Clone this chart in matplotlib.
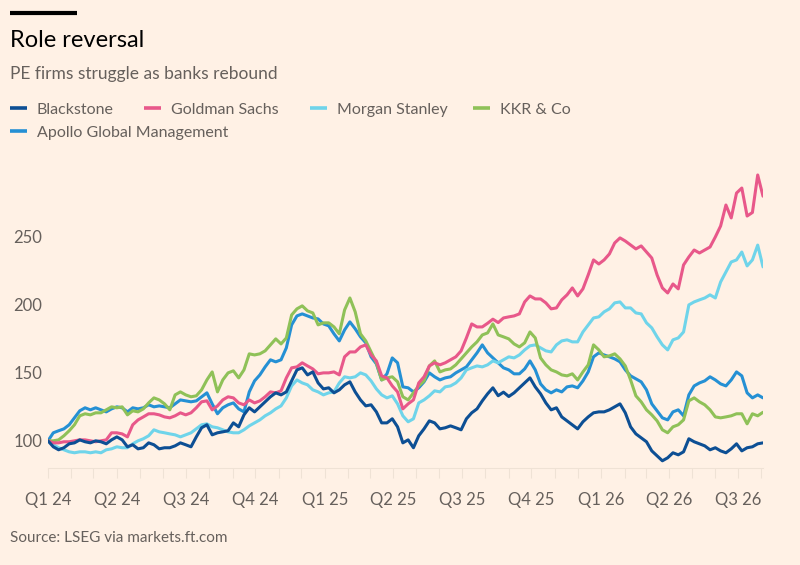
import matplotlib
matplotlib.use('Agg')
import matplotlib.pyplot as plt
import matplotlib.dates as mdates
from matplotlib.lines import Line2D
from matplotlib.ticker import FuncFormatter
import pandas as pd

plt.rcParams['font.family'] = ['Lato', 'DejaVu Sans']

#%% Data (indexed share prices, weekly, rebased to 100)
dates = pd.date_range('2024-01-01', periods=136, freq='7D')

blackstone = [100, 95.6, 93.4, 94.9, 97.8, 98.5, 100.7, 99.3, 98.5, 100,
              99.3, 97.8, 100.7, 102.9, 100.7, 95.6, 97.1, 94.1, 94.9, 98.5,
              97.1, 94.1, 94.9, 94.9, 96.3, 98.5, 97.1, 95.6, 102.9, 109.6,
              111.8, 104.4, 105.9, 106.6, 107.4, 113.2, 110.3, 119.1, 124.3, 121.3,
              125.0, 128.7, 132.4, 135.3, 133.8, 136.0, 144.1, 152.2, 153.7, 148.5,
              150.7, 142.6, 138.2, 139.0, 135.3, 137.5, 141.2, 143.4, 136.0, 130.1,
              125.7, 126.5, 121.3, 113.2, 113.2, 116.2, 110.3, 98.5, 100.7, 94.9,
              103.7, 108.8, 114.7, 113.2, 108.8, 109.6, 111.0, 109.6, 108.1, 116.2,
              120.6, 123.5, 129.4, 134.6, 139.0, 133.2, 135.8, 132.6, 135.3, 139.0,
              142.6, 146.3, 139.7, 134.6, 127.9, 122.8, 124.3, 117.6, 114.7, 111.8,
              108.8, 114.0, 117.6, 120.6, 121.3, 121.3, 122.8, 125.0, 127.2, 120.6,
              110.3, 105.1, 102.2, 99.3, 92.6, 89.0, 85.3, 87.5, 91.2, 89.7,
              91.9, 101.5, 99.3, 97.8, 96.3, 93.4, 94.9, 92.6, 91.2, 94.1,
              97.8, 92.6, 94.9, 95.6, 97.8, 98.5]

goldman = [100, 98.5, 98.5, 99.3, 99.3, 100, 100.7, 100.7, 100, 99.3,
           100, 100.7, 105.9, 105.9, 105.1, 102.9, 111.8, 115.4, 117.6, 119.9,
           119.9, 119.1, 117.6, 116.9, 118.4, 120.6, 119.1, 120.6, 124.3, 128.7,
           129.4, 122.8, 125.7, 130.1, 132.4, 131.6, 127.9, 126.5, 130.1, 127.9,
           129.4, 132.4, 136.0, 135.3, 136.8, 146.3, 153.7, 154.4, 157.4, 155.1,
           152.9, 149.3, 150.0, 150.0, 150.7, 148.5, 161.8, 165.4, 165.4, 169.1,
           170.6, 163.2, 158.8, 147.8, 146.3, 140.4, 136.0, 123.5, 127.2, 130.1,
           142.6, 147.1, 155.1, 157.4, 155.9, 157.4, 159.6, 161.8, 166.2, 175.7,
           186.0, 183.8, 183.8, 186.5, 189.5, 187.0, 190.4, 191.2, 191.9, 193.4,
           202.2, 206.6, 204.4, 204.4, 201.5, 197.1, 197.8, 203.7, 207.4, 212.5,
           206.6, 211.8, 222.1, 233.1, 230.1, 233.1, 237.5, 245.6, 249.3, 247.0,
           244.1, 241.2, 243.4, 239.0, 234.5, 222.1, 212.5, 208.8, 215.4, 211.8,
           229.4, 235.3, 240.4, 238.2, 240.4, 242.6, 250.0, 258.1, 273.5, 264.0,
           282.3, 286.0, 265.4, 268.0, 295.6, 280.0]

morgan = [100, 97.1, 94.9, 93.4, 91.9, 91.2, 91.9, 91.9, 91.2, 91.9,
          91.2, 93.4, 94.1, 95.6, 94.9, 94.9, 97.8, 100, 101.5, 103.7,
          108.1, 106.6, 105.9, 105.1, 104.4, 102.9, 104.4, 105.9, 108.8, 111.8,
          112.5, 110.3, 109.6, 108.1, 106.6, 105.9, 105.9, 108.1, 111.0, 113.2,
          115.4, 118.4, 120.6, 123.5, 125.7, 131.6, 140.4, 144.8, 142.6, 141.2,
          137.5, 136.0, 133.8, 135.3, 136.0, 142.6, 147.1, 146.3, 147.1, 150.0,
          148.5, 144.1, 138.2, 133.8, 131.6, 133.1, 127.2, 118.4, 114.0, 116.2,
          127.9, 130.1, 133.1, 136.8, 136.0, 139.7, 140.4, 142.6, 146.3, 152.2,
          153.7, 155.1, 154.4, 155.9, 158.8, 157.4, 159.6, 161.8, 161.0, 163.2,
          166.9, 169.9, 170.6, 168.4, 166.2, 165.4, 170.6, 173.5, 174.3, 172.8,
          172.8, 180.1, 185.3, 190.4, 191.2, 194.9, 197.1, 201.5, 202.2, 197.8,
          197.8, 194.1, 193.4, 186.8, 183.1, 176.5, 170.6, 166.9, 174.3, 175.7,
          180.1, 200.0, 202.2, 203.7, 205.1, 207.4, 205.1, 216.9, 224.3, 231.6,
          233.1, 238.9, 228.7, 233.1, 244.0, 228.0]

kkr = [100, 100, 100.7, 103.7, 107.4, 111.8, 118.4, 119.9, 119.1, 120.6,
       120.6, 122.8, 125.0, 124.3, 125.0, 119.1, 122.1, 121.3, 123.5, 127.9,
       131.6, 130.1, 127.2, 122.8, 133.8, 136.0, 133.8, 132.4, 133.1, 137.5,
       144.8, 150.7, 136.0, 144.8, 150.0, 151.5, 146.3, 152.2, 164.0, 163.2,
       164.0, 166.2, 170.6, 175.0, 171.3, 175.7, 192.6, 197.1, 199.3, 195.6,
       194.1, 185.3, 186.8, 186.8, 183.8, 178.7, 196.3, 205.1, 194.9, 178.7,
       173.5, 165.4, 157.4, 144.8, 146.3, 147.1, 143.4, 132.4, 130.1, 135.3,
       140.4, 144.1, 155.1, 158.8, 150.7, 152.2, 152.9, 155.9, 160.3, 164.7,
       169.1, 172.8, 177.9, 179.4, 186.0, 177.9, 176.5, 175.0, 171.3, 169.1,
       172.1, 180.1, 175.7, 161.0, 155.9, 152.2, 150.7, 148.5, 147.8, 149.3,
       144.8, 150.7, 155.9, 170.6, 166.9, 161.8, 162.5, 164.0, 160.3, 155.1,
       144.8, 133.1, 128.7, 122.8, 119.1, 114.7, 108.1, 105.9, 110.3, 111.8,
       115.4, 129.4, 131.6, 128.7, 126.5, 122.8, 117.6, 116.9, 117.6, 118.4,
       119.9, 119.9, 112.5, 119.9, 118.4, 121.0]

apollo = [100, 105.9, 107.4, 108.8, 111.8, 116.9, 122.1, 124.3, 122.8, 124.3,
          122.8, 121.3, 123.5, 125.0, 124.3, 121.3, 124.3, 123.5, 124.3, 126.5,
          125.0, 125.7, 125.0, 124.3, 127.2, 130.1, 129.4, 128.7, 129.4, 132.4,
          135.3, 127.2, 119.9, 124.3, 126.5, 127.9, 123.5, 121.3, 136.0, 144.1,
          148.5, 154.4, 159.6, 158.1, 159.6, 168.4, 185.3, 191.9, 193.4, 191.9,
          190.4, 189.7, 186.0, 184.6, 178.7, 173.5, 181.6, 187.5, 182.4, 176.5,
          172.1, 161.8, 156.6, 144.8, 149.3, 161.0, 157.4, 139.7, 139.0, 136.0,
          139.0, 143.4, 150.0, 147.1, 144.8, 146.3, 147.1, 150.0, 152.2, 154.4,
          159.6, 164.7, 170.6, 164.7, 161.0, 157.4, 153.7, 152.2, 149.3, 149.3,
          152.9, 158.8, 152.2, 141.9, 137.5, 135.3, 137.5, 136.0, 139.7, 140.4,
          139.0, 144.1, 150.7, 161.8, 164.7, 163.2, 161.8, 160.3, 158.1, 152.2,
          147.8, 145.6, 143.4, 137.5, 127.2, 122.1, 116.9, 115.4, 121.3, 122.8,
          118.4, 133.8, 140.4, 142.6, 144.1, 147.1, 144.8, 141.9, 140.4, 144.8,
          150.7, 147.8, 135.3, 131.6, 133.8, 131.6]

names = ['Blackstone', 'Goldman Sachs', 'Morgan Stanley', 'KKR & Co',
         'Apollo Global Management']
series = [blackstone, goldman, morgan, kkr, apollo]
colors = ['#0d4f94', '#e8588a', '#6fd4ea', '#8fc158', '#2590d4']
y_ticks = [100, 150, 200, 250]

#%% Plotting
W, H = 800, 565
bg = '#fff1e5'
grey = '#66605c'
faint = '#efe2d5'

def fx(px):
    return px / W

def fy(py):
    return 1 - py / H

fig = plt.figure(figsize=(W / 100, H / 100), dpi=100, facecolor=bg)
ax = fig.add_axes([fx(48), fy(468), fx(763) - fx(48), fy(169) - fy(468)])
ax.set_facecolor(bg)

# draw order: Blackstone ends up on top
for i in [4, 2, 3, 1, 0]:
    ax.plot(dates, series[i], color=colors[i], lw=2.2, solid_joinstyle='round',
            solid_capstyle='round')

ax.set_xlim(dates[0], dates[-1])
ax.set_ylim(80, 300)
ax.set_yticks(y_ticks)

for s in ['left', 'top', 'right']:
    ax.spines[s].set_visible(False)
ax.spines['bottom'].set_color(faint)
ax.spines['bottom'].set_linewidth(0.8)

ax.xaxis.set_major_locator(mdates.MonthLocator(bymonth=[1, 4, 7, 10]))
ax.xaxis.set_minor_locator(mdates.MonthLocator())
ax.xaxis.set_major_formatter(FuncFormatter(
    lambda v, p: 'Q%d %02d' % ((mdates.num2date(v).month - 1) // 3 + 1,
                               mdates.num2date(v).year % 100)))
ax.tick_params(axis='x', which='both', length=7, color=faint, width=0.8)
ax.tick_params(axis='x', which='major', labelsize=12, labelcolor=grey, pad=10)
ax.tick_params(axis='y', length=0, labelsize=12, labelcolor=grey, pad=4)

# title block
fig.add_artist(Line2D([fx(10), fx(77)], [fy(13), fy(13)], color='black',
                      lw=3, solid_capstyle='butt'))
fig.text(fx(10), fy(47), 'Role reversal', fontsize=17, color='#000000',
         va='baseline', ha='left')
fig.text(fx(10), fy(79), 'PE firms struggle as banks rebound', fontsize=12.5,
         color=grey, va='baseline', ha='left')

# legend (flow layout)
leg_pos = [(10, 108), (144, 108), (310, 108), (473, 108), (10, 131)]
for (lx, ly), name, c in zip(leg_pos, names, colors):
    fig.add_artist(Line2D([fx(lx), fx(lx + 17)], [fy(ly), fy(ly)], color=c,
                          lw=2.6, solid_capstyle='butt'))
    fig.text(fx(lx + 27), fy(ly + 6), name, fontsize=11.5, color=grey,
             va='baseline', ha='left')

fig.text(fx(10), fy(542), 'Source: LSEG via markets.ft.com', fontsize=11,
         color=grey, va='baseline', ha='left')

fig.savefig('out.png', dpi=100, facecolor=bg)
